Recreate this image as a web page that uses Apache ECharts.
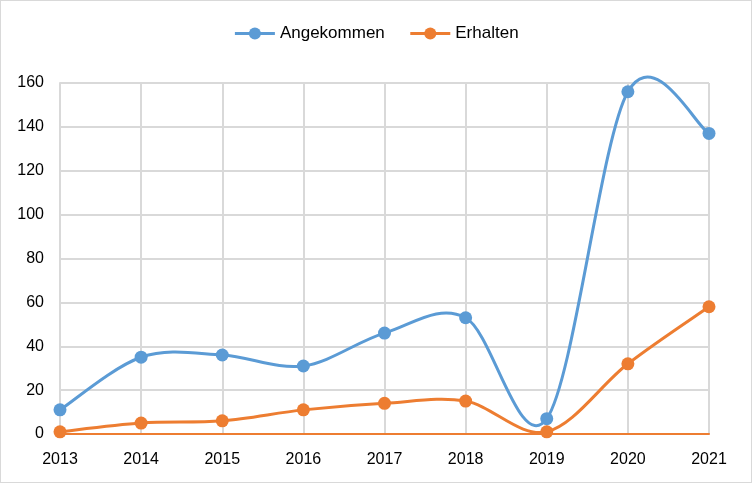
<!DOCTYPE html>
<html><head><meta charset="utf-8">
<script src="https://cdn.jsdelivr.net/npm/echarts@6/dist/echarts.min.js"></script>
<style>html,body{margin:0;padding:0;background:#fff}#c{width:752px;height:483px;box-sizing:border-box;border:1px solid #d9d9d9}</style>
</head><body><div id="c"></div>
<script>
const years = ['2013','2014','2015','2016','2017','2018','2019','2020','2021'];
const angekommen = [11, 35, 36, 31, 46, 53, 7, 156, 137];
const erhalten = [1, 5, 6, 11, 14, 15, 1, 32, 58];
const BLUE = '#5B9BD5', ORANGE = '#ED7D31';
const chart = echarts.init(document.getElementById('c'));
const font = 'Liberation Sans';

// Excel-like smoothed curve (Catmull-Rom style Bezier), computed from axis coordinates
function curveSeries(name, arr, color) {
  return {
    name: name, type: 'custom', silent: true, z: 2,
    data: arr.map((v, i) => [i, v]),
    encode: {x: 0, y: 1},
    renderItem: function (params, api) {
      const i = params.dataIndex;
      if (i >= arr.length - 1) return null;
      const P = k => api.coord([Math.max(0, Math.min(arr.length - 1, k)), arr[Math.max(0, Math.min(arr.length - 1, k))]]);
      const p0 = P(i - 1), p1 = P(i), p2 = P(i + 1), p3 = P(i + 2);
      return {
        type: 'bezierCurve',
        shape: {
          x1: p1[0], y1: p1[1], x2: p2[0], y2: p2[1],
          cpx1: p1[0] + (p2[0] - p0[0]) / 6, cpy1: p1[1] + (p2[1] - p0[1]) / 6,
          cpx2: p2[0] - (p3[0] - p1[0]) / 6, cpy2: p2[1] - (p3[1] - p1[1]) / 6
        },
        style: {stroke: color, lineWidth: 3, fill: null}
      };
    }
  };
}

chart.setOption({
  animation: false,
  textStyle: {fontFamily: font},
  legend: {
    top: 19, left: 'center', itemWidth: 40, itemHeight: 15, itemGap: 24,
    textStyle: {fontSize: 17, color: '#000', fontFamily: font},
    data: [
      {name: 'Angekommen', lineStyle: {color: BLUE, width: 3, opacity: 1}, itemStyle: {color: BLUE}},
      {name: 'Erhalten', lineStyle: {color: ORANGE, width: 3, opacity: 1}, itemStyle: {color: ORANGE}}
    ]
  },
  grid: {left: 59, right: 42, top: 82, bottom: 48},
  xAxis: {
    type: 'category', data: years, boundaryGap: false,
    axisLine: {lineStyle: {color: ORANGE, width: 2}},
    axisTick: {show: false},
    axisLabel: {fontSize: 16, color: '#000', margin: 18, fontFamily: font},
    splitLine: {show: true, lineStyle: {color: '#d9d9d9', width: 2}}
  },
  yAxis: {
    type: 'value', min: 0, max: 160, interval: 20,
    axisLine: {show: true, lineStyle: {color: '#d9d9d9', width: 2}},
    axisTick: {show: false},
    axisLabel: {fontSize: 16, color: '#000', margin: 16, fontFamily: font},
    splitLine: {lineStyle: {color: '#d9d9d9', width: 2}}
  },
  series: [
    curveSeries('Angekommen-Kurve', angekommen, BLUE),
    curveSeries('Erhalten-Kurve', erhalten, ORANGE),
    {name: 'Angekommen', type: 'line', data: angekommen, z: 3,
     symbol: 'circle', symbolSize: 13, color: BLUE, lineStyle: {width: 0, opacity: 0}},
    {name: 'Erhalten', type: 'line', data: erhalten, z: 3,
     symbol: 'circle', symbolSize: 13, color: ORANGE, lineStyle: {width: 0, opacity: 0}}
  ]
});
</script></body></html>
